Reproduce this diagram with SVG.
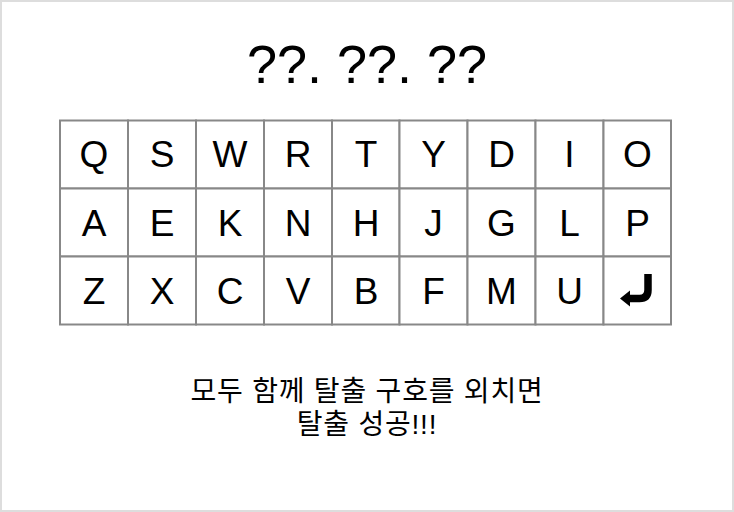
<svg xmlns="http://www.w3.org/2000/svg" width="734" height="512" viewBox="0 0 734 512">
<style>
.frame{fill:#ffffff;stroke:#dddddd;stroke-width:2}
.key{fill:#ffffff;stroke:#888888;stroke-width:2}
.k{font-family:"Liberation Sans",Arial,sans-serif;font-size:37px;fill:#000;text-anchor:middle}
.title{font-family:"Liberation Sans",Arial,sans-serif;font-size:54px;fill:#000;text-anchor:middle}
.msg{font-family:"Liberation Sans","Noto Sans CJK KR",sans-serif;font-size:28px;letter-spacing:0.8px;fill:#000;text-anchor:middle}
</style>
<rect class="frame" x="1" y="1" width="732" height="510"/>
<g id="title"><text class="title" x="367" y="83">??. ??. ??</text></g>
<g id="keyboard">
<g id="row1">
<rect class="key" x="60" y="120.5" width="68" height="68"/><text class="k" x="94" y="167">Q</text>
<rect class="key" x="128" y="120.5" width="68" height="68"/><text class="k" x="162" y="167">S</text>
<rect class="key" x="196" y="120.5" width="68" height="68"/><text class="k" x="230" y="167">W</text>
<rect class="key" x="264" y="120.5" width="68" height="68"/><text class="k" x="298" y="167">R</text>
<rect class="key" x="332" y="120.5" width="67.5" height="68"/><text class="k" x="366" y="167">T</text>
<rect class="key" x="399.5" y="120.5" width="68" height="68"/><text class="k" x="433.5" y="167">Y</text>
<rect class="key" x="467.5" y="120.5" width="68" height="68"/><text class="k" x="501.5" y="167">D</text>
<rect class="key" x="535.5" y="120.5" width="68" height="68"/><text class="k" x="569.5" y="167">I</text>
<rect class="key" x="603.5" y="120.5" width="67.5" height="68"/><text class="k" x="637.5" y="167">O</text>
</g>
<g id="row2">
<rect class="key" x="60" y="188.5" width="68" height="68"/><text class="k" x="94" y="235.5">A</text>
<rect class="key" x="128" y="188.5" width="68" height="68"/><text class="k" x="162" y="235.5">E</text>
<rect class="key" x="196" y="188.5" width="68" height="68"/><text class="k" x="230" y="235.5">K</text>
<rect class="key" x="264" y="188.5" width="68" height="68"/><text class="k" x="298" y="235.5">N</text>
<rect class="key" x="332" y="188.5" width="67.5" height="68"/><text class="k" x="366" y="235.5">H</text>
<rect class="key" x="399.5" y="188.5" width="68" height="68"/><text class="k" x="433.5" y="235.5">J</text>
<rect class="key" x="467.5" y="188.5" width="68" height="68"/><text class="k" x="501.5" y="235.5">G</text>
<rect class="key" x="535.5" y="188.5" width="68" height="68"/><text class="k" x="569.5" y="235.5">L</text>
<rect class="key" x="603.5" y="188.5" width="67.5" height="68"/><text class="k" x="637.5" y="235.5">P</text>
</g>
<g id="row3">
<rect class="key" x="60" y="256.5" width="68" height="68"/><text class="k" x="94" y="304">Z</text>
<rect class="key" x="128" y="256.5" width="68" height="68"/><text class="k" x="162" y="304">X</text>
<rect class="key" x="196" y="256.5" width="68" height="68"/><text class="k" x="230" y="304">C</text>
<rect class="key" x="264" y="256.5" width="68" height="68"/><text class="k" x="298" y="304">V</text>
<rect class="key" x="332" y="256.5" width="67.5" height="68"/><text class="k" x="366" y="304">B</text>
<rect class="key" x="399.5" y="256.5" width="68" height="68"/><text class="k" x="433.5" y="304">F</text>
<rect class="key" x="467.5" y="256.5" width="68" height="68"/><text class="k" x="501.5" y="304">M</text>
<rect class="key" x="535.5" y="256.5" width="68" height="68"/><text class="k" x="569.5" y="304">U</text>
<rect class="key" x="603.5" y="256.5" width="67.5" height="68"/>
<g id="enter">
<path d="M648 274 V290 Q648 298.5 639.5 298.5 H628" fill="none" stroke="#000" stroke-width="7.5"/>
<polygon points="620,298.5 630,290.5 630,306.5" fill="#000"/>
</g>
</g>
</g>
<g id="message">
<text class="msg" x="367" y="401">모두 함께 탈출 구호를 외치면</text>
<text class="msg" x="367" y="434">탈출 성공!!!</text>
</g>
<g id="connectors"/>
</svg>
